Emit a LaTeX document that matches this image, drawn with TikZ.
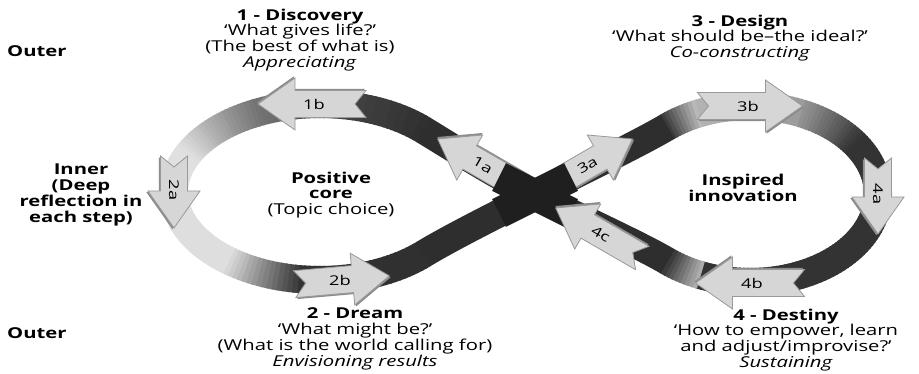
\documentclass[tikz,border=0pt]{standalone}
\usepackage{fontspec}
\setmainfont{Open Sans}[FakeStretch=1.35]
\tikzset{
  band/.style={line width=28pt, line cap=butt},
  arrowbody/.style={fill=gray!32, draw=black!40, line width=0.8pt, line join=miter},
  arrowshadow/.style={fill=black!45},
  arrowlabel/.style={font=\fontsize{13.5}{13.5}\selectfont, inner sep=0pt},
  txt/.style={align=center, inner sep=0pt, font=\fontsize{15}{15.8}\selectfont},
  xbar/.style={line width=31pt, line cap=butt, draw=black!88},
}
\newcommand{\gradarc}[8]{%
  \pgfmathtruncatemacro{\gaN}{max(2,round(abs(#6-#5)/2))}%
  \foreach \gaK in {1,...,\gaN}{%
    \pgfmathsetmacro{\gaA}{#5+(#6-#5)*(\gaK-1)/\gaN}%
    \pgfmathsetmacro{\gaB}{#5+(#6-#5)*\gaK/\gaN}%
    \pgfmathsetmacro{\gaLo}{min(\gaA,\gaB)-0.4}%
    \pgfmathsetmacro{\gaHi}{max(\gaA,\gaB)+0.4}%
    \pgfmathtruncatemacro{\gaP}{#7+(#8-#7)*(\gaK-0.5)/\gaN}%
    \draw[band, draw=black!\gaP] plot[domain=\gaLo:\gaHi, samples=3] ({#1+#3*cos(\x)},{#2-#4*sin(\x)});
  }}
\newcommand{\flowarrow}[7]{%
  \begin{scope}[shift={(#2,#3)}, rotate=#4]
    \pgfmathsetmacro{\faH}{#5/2}
    \fill[arrowshadow, shift={(1.2,1.6)}] (-\faH,13.5) -- (\faH-37,13.5) -- (\faH-37,26) -- (\faH,0) -- (\faH-37,-26) -- (\faH-37,-13.5) -- (-\faH,-13.5) -- (-\faH+11,0) -- cycle;
    \filldraw[arrowbody] (-\faH,13.5) -- (\faH-37,13.5) -- (\faH-37,26) -- (\faH,0) -- (\faH-37,-26) -- (\faH-37,-13.5) -- (-\faH,-13.5) -- (-\faH+11,0) -- cycle;
    \node[arrowlabel, rotate=#6] (#1) at (-2,0) {#7};
  \end{scope}}
\begin{document}
\begin{tikzpicture}[x=1pt, y=-1pt]
\useasboundingbox (0,0) rectangle (919,374);
\fill[white] (0,0) rectangle (919,374);

% named points of the figure eight
\coordinate (X0) at (535,195);
\coordinate (L45) at (423.2,129.8);
\coordinate (Lm45) at (423.2,254.2);
\coordinate (R130) at (667.7,126.6);
\coordinate (Rm130) at (667.7,261.4);

% left loop
\gradarc{320}{192}{146}{88}{45}{100}{82}{70}
\gradarc{320}{192}{146}{88}{100}{116}{62}{55}
\gradarc{320}{192}{146}{88}{116}{155}{55}{12}
\gradarc{320}{192}{146}{88}{155}{232}{12}{14}
\gradarc{320}{192}{146}{88}{232}{262}{14}{78}
\gradarc{320}{192}{146}{88}{262}{315}{80}{82}
% right loop
\gradarc{750}{194}{128}{88}{130}{113}{80}{25}
\gradarc{750}{194}{128}{88}{113}{66}{30}{40}
\gradarc{750}{194}{128}{88}{66}{35}{42}{80}
\gradarc{750}{194}{128}{88}{35}{-113}{80}{80}
\gradarc{750}{194}{128}{88}{-113}{-130}{30}{80}
% crossing bands
\draw[band, black!82] (Lm45) .. controls (450,238) and (490,218) .. (X0) .. controls (580,172) and (640,143) .. (R130);
\draw[band, black!82] (Rm130) .. controls (640,245) and (580,218) .. (X0) .. controls (490,172) and (450,146) .. (L45);

% arrows
\flowarrow{a1b}{312}{104}{180}{108}{0}{1b}
\flowarrow{a2a}{174}{192}{-90}{72}{-90}{2a}
\flowarrow{a2b}{342}{280}{5}{95}{0}{2b}
\flowarrow{a3b}{750}{106}{0}{105}{0}{3b}
\flowarrow{a4a}{878}{196}{-90}{76}{-90}{4a}
\flowarrow{a4b}{750}{283}{180}{109}{0}{4b}
\flowarrow{a1a}{481}{164}{150}{100}{-30}{1a}
\flowarrow{a3a}{589}{164}{30}{100}{30}{3a}
% dark cross
\draw[xbar] ([shift={(-36,-18)}]X0) -- ([shift={(36,18)}]X0);
\draw[xbar] ([shift={(-36,18)}]X0) -- ([shift={(36,-18)}]X0);
\flowarrow{a4c}{599}{233}{150}{100}{-30}{4c}

% texts
\node[txt] (disc) at (300,40) {\textbf{1 - Discovery}\\‘What gives life?’\\(The best of what is)\\\textit{Appreciating}};
\node[txt] (design) at (740,38) {\textbf{3 - Design}\\‘What should be–the ideal?’\\\textit{Co-constructing}};
\node[txt] (dream) at (355,339) {\textbf{2 - Dream}\\‘What might be?’\\(What is the world calling for)\\\textit{Envisioning results}};
\node[txt] (destiny) at (786,340) {\textbf{4 - Destiny}\\‘How to empower, learn\\and adjust/improvise?’\\\textit{Sustaining}};
\node[txt, anchor=west] (outtop) at (7,51) {\textbf{Outer}};
\node[txt, anchor=west] (outbot) at (7,333) {\textbf{Outer}};
\node[txt] (inner) at (81,195) {\textbf{Inner}\\\textbf{(Deep}\\\textbf{reflection in}\\\textbf{each step)}};
\node[txt] (poscore) at (331,195) {\textbf{Positive}\\\textbf{core}\\(Topic choice)};
\node[txt] (inspired) at (743,188) {\textbf{Inspired}\\\textbf{innovation}};
\end{tikzpicture}
\end{document}
